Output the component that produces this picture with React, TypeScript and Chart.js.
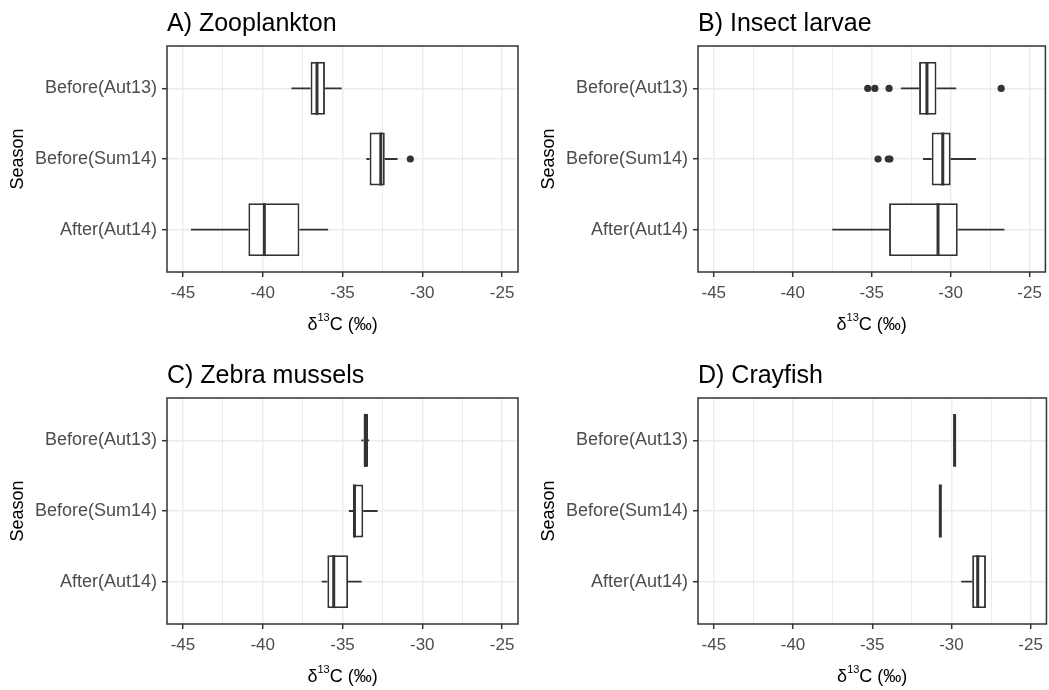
import React, { useEffect, useRef } from 'react';
import { Chart, registerables } from 'chart.js';

Chart.register(...registerables);

// ---------- data ----------
const categories = ['Before(Aut13)', 'Before(Sum14)', 'After(Aut14)'];
const xTickValues = [-45, -42.5, -40, -37.5, -35, -32.5, -30, -27.5, -25];
const xMin = -46;
const xMax = -24;
const xAxisTitleParts = ['δ', '13', 'C (‰)'];
const yAxisTitle = 'Season';

// A) Zooplankton
const zooMin = [-38.2, -33.5, -44.5];
const zooQ1 = [-37.0, -33.3, -40.9];
const zooMed = [-36.6, -32.6, -39.9];
const zooQ3 = [-36.1, -32.35, -37.7];
const zooMax = [-35.05, -31.55, -35.9];
const zooOut = [[], [-30.75], []];

// B) Insect larvae
const insMin = [-33.15, -31.75, -37.5];
const insQ1 = [-32.0, -31.2, -33.9];
const insMed = [-31.5, -30.5, -30.8];
const insQ3 = [-30.9, -30.0, -29.55];
const insMax = [-29.65, -28.4, -26.6];
const insOut = [[-35.25, -34.8, -33.9, -26.8], [-34.6, -33.95, -33.85], []];

// C) Zebra mussels
const zebMin = [-33.82, -34.6, -36.3];
const zebQ1 = [-33.68, -34.33, -35.95];
const zebMed = [-33.54, -34.25, -35.55];
const zebQ3 = [-33.4, -33.7, -34.65];
const zebMax = [-33.33, -32.8, -33.8];
const zebOut = [[], [], []];

// D) Crayfish
const crMin = [-29.85, -30.7, -29.38];
const crQ1 = [-29.8, -30.7, -28.69];
const crMed = [-29.8, -30.7, -28.34];
const crQ3 = [-29.78, -30.7, -27.82];
const crMax = [-29.78, -30.7, -27.82];
const crOut = [[], [], []];

// ---------- styling ----------
const FONT = "'Liberation Sans', Arial, sans-serif";
const DARK = '#333333';
const GRID = '#ebebeb';

type PanelDef = {
  title: string;
  min: number[];
  q1: number[];
  med: number[];
  q3: number[];
  max: number[];
  out: number[][];
  left: number;
  top: number;
  width: number;
  height: number;
  padRight: number;
};

const panels: PanelDef[] = [
  { title: 'A) Zooplankton', min: zooMin, q1: zooQ1, med: zooMed, q3: zooQ3, max: zooMax, out: zooOut, left: 0, top: 0, width: 524, height: 345, padRight: 6 },
  { title: 'B) Insect larvae', min: insMin, q1: insQ1, med: insMed, q3: insQ3, max: insMax, out: insOut, left: 531, top: 0, width: 518, height: 345, padRight: 2 },
  { title: 'C) Zebra mussels', min: zebMin, q1: zebQ1, med: zebMed, q3: zebQ3, max: zebMax, out: zebOut, left: 0, top: 352, width: 524, height: 338, padRight: 6 },
  { title: 'D) Crayfish', min: crMin, q1: crQ1, med: crMed, q3: crQ3, max: crMax, out: crOut, left: 531, top: 352, width: 518, height: 338, padRight: 2 },
];

const PLOT_TOP = 46;
const PLOT_BOTTOM = 272;
const Y_AXIS_WIDTH = 167;

function Panel({ p }: { p: PanelDef }) {
  const ref = useRef<HTMLCanvasElement | null>(null);

  useEffect(() => {
    const canvas = ref.current;
    if (!canvas) return;

    const boxData = categories.map((_, i) => ({ x: [p.q1[i], p.q3[i]], y: i }));
    const outlierData: { x: number; y: number }[] = [];
    p.out.forEach((arr, i) => arr.forEach((v) => outlierData.push({ x: v, y: i })));

    const extras = {
      id: 'boxExtras',
      afterDatasetsDraw(chart: any) {
        const { ctx, chartArea, scales } = chart;
        const xs = scales.x;
        const ys = scales.y;
        const meta = chart.getDatasetMeta(0);
        ctx.save();
        ctx.beginPath();
        ctx.rect(chartArea.left, chartArea.top, chartArea.right - chartArea.left, chartArea.bottom - chartArea.top);
        ctx.clip();
        ctx.strokeStyle = DARK;
        ctx.lineCap = 'butt';
        categories.forEach((_, i) => {
          const yc = ys.getPixelForValue(i);
          const h = meta.data[i] ? meta.data[i].height : 50;
          ctx.lineWidth = 1.9;
          ctx.beginPath();
          ctx.moveTo(xs.getPixelForValue(p.min[i]), yc);
          ctx.lineTo(xs.getPixelForValue(p.q1[i]), yc);
          ctx.moveTo(xs.getPixelForValue(p.q3[i]), yc);
          ctx.lineTo(xs.getPixelForValue(p.max[i]), yc);
          ctx.stroke();
          ctx.lineWidth = 3;
          ctx.beginPath();
          const xm = xs.getPixelForValue(p.med[i]);
          ctx.moveTo(xm, yc - h / 2);
          ctx.lineTo(xm, yc + h / 2);
          ctx.stroke();
        });
        ctx.restore();
      },
      afterDraw(chart: any) {
        const { ctx, chartArea } = chart;
        ctx.save();
        // panel border
        ctx.strokeStyle = DARK;
        ctx.lineWidth = 1.5;
        ctx.strokeRect(chartArea.left, chartArea.top, chartArea.right - chartArea.left, chartArea.bottom - chartArea.top);
        // panel title
        ctx.fillStyle = '#000';
        ctx.font = `25px ${FONT}`;
        ctx.textAlign = 'left';
        ctx.textBaseline = 'alphabetic';
        ctx.fillText(p.title, chartArea.left, 31);
        // x axis title with superscript
        const big = `18px ${FONT}`;
        const small = `11px ${FONT}`;
        ctx.font = big;
        const w1 = ctx.measureText(xAxisTitleParts[0]).width;
        const w3 = ctx.measureText(xAxisTitleParts[2]).width;
        ctx.font = small;
        const w2 = ctx.measureText(xAxisTitleParts[1]).width;
        const cx = (chartArea.left + chartArea.right) / 2;
        let xx = cx - (w1 + w2 + w3) / 2;
        const base = chartArea.bottom + 58;
        ctx.font = big;
        ctx.fillText(xAxisTitleParts[0], xx, base);
        xx += w1;
        ctx.font = small;
        ctx.fillText(xAxisTitleParts[1], xx, base - 9);
        xx += w2;
        ctx.font = big;
        ctx.fillText(xAxisTitleParts[2], xx, base);
        ctx.restore();
      },
    };

    const chart = new Chart(canvas, {
      type: 'bar',
      data: {
        datasets: [
          {
            type: 'bar',
            data: boxData as any,
            backgroundColor: '#ffffff',
            borderColor: DARK,
            borderWidth: 1.9,
            borderSkipped: false,
            barPercentage: 0.75,
            categoryPercentage: 1,
          } as any,
          {
            type: 'scatter',
            data: outlierData as any,
            pointRadius: 3.6,
            pointBackgroundColor: DARK,
            pointBorderWidth: 0,
            pointHoverRadius: 3.6,
          } as any,
        ],
      },
      plugins: [extras],
      options: {
        indexAxis: 'y',
        animation: false,
        responsive: false,
        devicePixelRatio: 1,
        events: [],
        layout: { padding: { top: PLOT_TOP, right: p.padRight, left: 0, bottom: 0 } },
        plugins: { legend: { display: false }, tooltip: { enabled: false }, title: { display: false } },
        scales: {
          x: {
            type: 'linear',
            min: xMin,
            max: xMax,
            offset: false,
            afterBuildTicks: (scale: any) => {
              scale.ticks = xTickValues.map((v) => ({ value: v }));
            },
            afterFit: (scale: any) => {
              scale.height = p.height - PLOT_BOTTOM;
            },
            border: { display: false },
            grid: {
              offset: false,
              color: GRID,
              lineWidth: (c: any) => (c.tick && c.tick.value % 5 === 0 ? 1.4 : 1.0),
              tickColor: (c: any) => (c.tick && c.tick.value % 5 === 0 ? DARK : 'rgba(0,0,0,0)'),
              tickLength: 5,
              tickWidth: 1.5,
            },
            ticks: {
              autoSkip: false,
              maxRotation: 0,
              padding: 6,
              color: '#4d4d4d',
              font: { family: FONT, size: 17 },
              callback: (v: any) => (Number(v) % 5 === 0 ? String(v) : ''),
            },
          },
          y: {
            type: 'linear',
            min: -0.6,
            max: 2.6,
            reverse: true,
            offset: false,
            afterBuildTicks: (scale: any) => {
              scale.ticks = categories.map((_, i) => ({ value: i }));
            },
            afterFit: (scale: any) => {
              scale.width = Y_AXIS_WIDTH;
            },
            border: { display: false },
            grid: {
              offset: false,
              color: GRID,
              lineWidth: 1.4,
              tickColor: DARK,
              tickLength: 5,
              tickWidth: 1.5,
            },
            ticks: {
              autoSkip: false,
              padding: 5,
              color: '#4d4d4d',
              font: { family: FONT, size: 18 },
              callback: (v: any) => categories[Number(v)] ?? '',
            },
            title: {
              display: true,
              text: yAxisTitle,
              color: '#000',
              font: { family: FONT, size: 18 },
              padding: { top: 7, bottom: 0 },
            },
          },
        },
      } as any,
    });

    return () => {
      chart.destroy();
    };
  }, [p]);

  return (
    <canvas
      ref={ref}
      width={p.width}
      height={p.height}
      style={{ position: 'absolute', left: p.left, top: p.top, width: p.width, height: p.height }}
    />
  );
}

export default function App() {
  return (
    <div style={{ position: 'fixed', left: 0, top: 0, width: 1049, height: 690, background: '#ffffff', overflow: 'hidden' }}>
      {panels.map((p) => (
        <Panel key={p.title} p={p} />
      ))}
    </div>
  );
}
